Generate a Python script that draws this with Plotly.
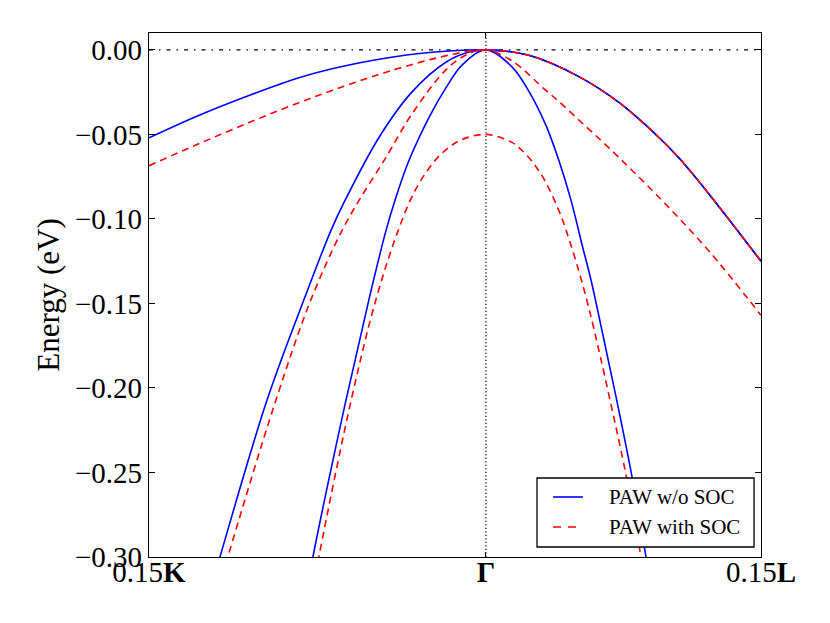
import plotly.graph_objects as go

# ---- data (k in units of 2*pi/a; K side negative, L side positive; E in eV) ----
K_END = -0.1591   # 0.15 K
L_END = 0.1299    # 0.15 L

# PAW w/o SOC
hh_k_k = [-0.1591, -0.1370, -0.1119, -0.0883, -0.0727, -0.0505, -0.0255, 0.0]
hh_k_e = [-0.052, -0.0395, -0.027, -0.0165, -0.0112, -0.0055, -0.0014, 0.0]

hh_l_k = [0.0, 0.0203, 0.0439, 0.0628, 0.0817, 0.0912, 0.1053, 0.1299]
hh_l_e = [0.0, -0.0032, -0.0158, -0.0311, -0.0518, -0.064, -0.0852, -0.125]

outer_k_k = [-0.1370, -0.1256, -0.1034, -0.0860, -0.0732, -0.0666, -0.0505, -0.0350, -0.0189, -0.0080, 0.0]
outer_k_e = [-0.35, -0.30, -0.2073, -0.148, -0.1069, -0.0892, -0.0518, -0.0250, -0.0073, -0.0013, 0.0]

inner_k_k = [-0.0897, -0.0817, -0.0661, -0.0553, -0.0472, -0.0430, -0.0364, -0.0269, -0.0189, -0.0113, 0.0]
inner_k_e = [-0.355, -0.30, -0.2073, -0.148, -0.1069, -0.0892, -0.0656, -0.040, -0.0225, -0.0090, 0.0]

light_l_k = [0.0, 0.0123, 0.0203, 0.0283, 0.0345, 0.0402, 0.0453, 0.0496, 0.0548, 0.0614, 0.0690, 0.0756, 0.0827]
light_l_e = [0.0, -0.0100, -0.0245, -0.0445, -0.0656, -0.089, -0.1148, -0.136, -0.166, -0.205, -0.2526, -0.30, -0.355]

# PAW with SOC
s_hh_k_k = [-0.1591, -0.1370, -0.1119, -0.0883, -0.0727, -0.0567, -0.0491, -0.0411, -0.0260, -0.0094, 0.0]
s_hh_k_e = [-0.0685, -0.0563, -0.043, -0.0312, -0.024, -0.0171, -0.014, -0.0109, -0.0056, -0.0011, 0.0]

s_lh_k_k = [-0.1323, -0.1219, -0.0992, -0.0827, -0.0680, -0.0600, -0.0472, -0.0350, -0.0189, -0.0094, 0.0]
s_lh_k_e = [-0.345, -0.30, -0.2073, -0.148, -0.1069, -0.0892, -0.0636, -0.038, -0.0118, -0.0030, 0.0]

s_lh_l_k = [0.0, 0.0123, 0.0283, 0.0340, 0.0439, 0.0581, 0.0817, 0.1053, 0.1299]
s_lh_l_e = [0.0, -0.0065, -0.024, -0.030, -0.0415, -0.058, -0.0872, -0.119, -0.157]

s_so_k_k = [-0.0874, -0.0789, -0.0633, -0.0520, -0.0411, -0.0331, -0.0246, -0.0189, -0.0118, 0.0]
s_so_k_e = [-0.359, -0.30, -0.2055, -0.148, -0.1057, -0.0823, -0.0663, -0.0591, -0.0533, -0.050]

s_so_l_k = [0.0, 0.0123, 0.0156, 0.0217, 0.0283, 0.0345, 0.0378, 0.0439, 0.0477, 0.0510, 0.0661, 0.0732, 0.0803]
s_so_l_e = [-0.050, -0.0547, -0.0578, -0.0658, -0.0784, -0.0952, -0.1064, -0.1309, -0.1483, -0.165, -0.251, -0.2997, -0.353]

x_tick_vals = [K_END, 0.0, L_END]
x_tick_text = ["0.15<b>K</b>", "<b>Γ</b>", "0.15<b>L</b>"]
y_tick_vals = [0.0, -0.05, -0.10, -0.15, -0.20, -0.25, -0.30]
y_tick_text = ["0.00", "\u22120.05", "\u22120.10", "\u22120.15", "\u22120.20", "\u22120.25", "\u22120.30"]
legend_names = ["PAW w/o SOC", "PAW with SOC"]

FONT = "Liberation Serif, Times New Roman, serif"
BLUE = "#0000ff"
RED = "#ff0000"
DASH = "7px,5px"

fig = go.Figure()

def band(kk, ee, color, dash):
    fig.add_trace(go.Scatter(
        x=kk, y=ee, mode="lines",
        line=dict(color=color, width=1.6, dash=dash, shape="spline", smoothing=1.0),
        showlegend=False, hoverinfo="skip"))

# w/o SOC (blue)
band(hh_k_k + hh_l_k[1:], hh_k_e + hh_l_e[1:], BLUE, "solid")
band(outer_k_k + hh_l_k[1:], outer_k_e + hh_l_e[1:], BLUE, "solid")
band(inner_k_k + light_l_k[1:], inner_k_e + light_l_e[1:], BLUE, "solid")

# with SOC (red dashed)
band(s_hh_k_k + hh_l_k[1:], s_hh_k_e + hh_l_e[1:], RED, DASH)
band(s_lh_k_k + s_lh_l_k[1:], s_lh_k_e + s_lh_l_e[1:], RED, DASH)
band(s_so_k_k + s_so_l_k[1:], s_so_k_e + s_so_l_e[1:], RED, DASH)

# reference lines
fig.add_shape(type="line", xref="x", yref="y", x0=K_END, x1=L_END, y0=0, y1=0,
              line=dict(color="black", width=1.2, dash="4px,6px,1.5px,6px"), layer="below")
fig.add_shape(type="line", xref="x", yref="y", x0=0, x1=0, y0=-0.30, y1=0.01,
              line=dict(color="black", width=1.2, dash="1.2px,2.3px"), layer="below")

# legend box (drawn manually, matplotlib style)
fig.add_shape(type="rect", xref="paper", yref="paper", x0=0.634, x1=0.9886, y0=0.0191, y1=0.1508,
              line=dict(color="black", width=1.3), fillcolor="white", layer="above")
fig.add_shape(type="line", xref="paper", yref="paper", x0=0.6601, x1=0.7092, y0=0.1145, y1=0.1145,
              line=dict(color=BLUE, width=1.6), layer="above")
fig.add_shape(type="line", xref="paper", yref="paper", x0=0.6601, x1=0.7092, y0=0.0573, y1=0.0573,
              line=dict(color=RED, width=1.6, dash="8px,7px"), layer="above")
for name, yy in zip(legend_names, [0.1145, 0.0573]):
    fig.add_annotation(xref="paper", yref="paper", x=0.7478, y=yy, text=name,
                       showarrow=False, xanchor="left", yanchor="middle",
                       font=dict(family=FONT, size=21, color="black"))

fig.update_layout(
    width=830, height=623,
    margin=dict(l=149, r=69, t=33, b=66),
    paper_bgcolor="white", plot_bgcolor="white",
    font=dict(family=FONT, color="black", size=29),
    showlegend=False,
    xaxis=dict(range=[K_END, L_END], tickmode="array", tickvals=x_tick_vals,
               ticktext=x_tick_text, ticks="inside", ticklen=5, tickcolor="black",
               showgrid=False, zeroline=False, showline=True, linecolor="black",
               linewidth=1.3, mirror="ticks", tickfont=dict(size=29, family=FONT),
               ticklabelstandoff=-11, automargin=False),
    yaxis=dict(range=[-0.30, 0.01], tickmode="array", tickvals=y_tick_vals,
               ticktext=y_tick_text, ticks="inside", ticklen=6, tickcolor="black",
               showgrid=False, zeroline=False, showline=True, linecolor="black",
               linewidth=1.3, mirror="ticks", tickfont=dict(size=29, family=FONT),
               automargin=False,
               title=dict(text="Energy (eV)", font=dict(size=31, family=FONT), standoff=6)),
)

fig.write_html("out.html", config={"displayModeBar": False},
               post_script="document.body.style.margin='0px';")
